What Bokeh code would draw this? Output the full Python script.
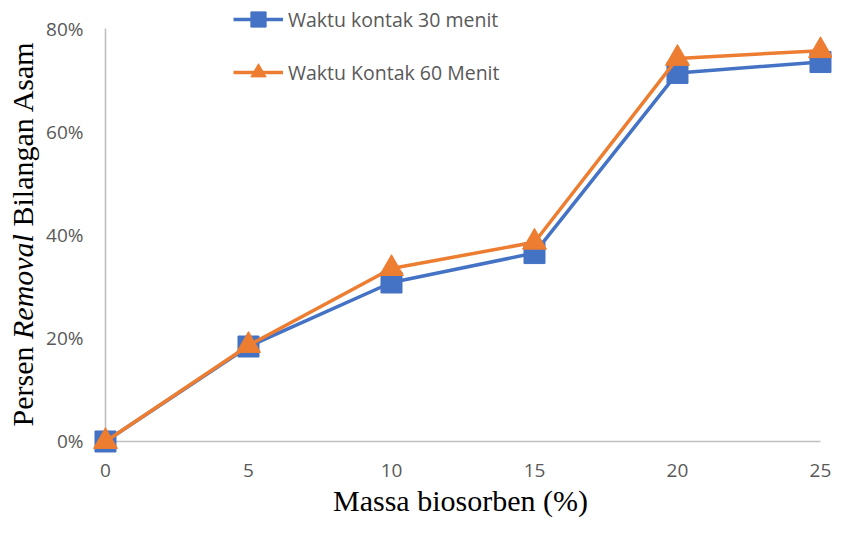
import math
from bokeh.plotting import figure
from bokeh.models import Range1d, Legend, LegendItem, Label
from bokeh.core.properties import value
from bokeh.embed import file_html
from bokeh.resources import INLINE

# ---- data ----
massa = [0, 5, 10, 15, 20, 25]
waktu_30 = [0.0, 0.184, 0.308, 0.365, 0.714, 0.735]
waktu_60 = [0.0, 0.186, 0.335, 0.386, 0.742, 0.757]
series_names = ["Waktu kontak 30 menit", "Waktu Kontak 60 Menit"]
x_ticks = [0, 5, 10, 15, 20, 25]
x_tick_labels = ["0", "5", "10", "15", "20", "25"]
y_ticks = [0.0, 0.2, 0.4, 0.6, 0.8]
y_tick_labels = ["0%", "20%", "40%", "60%", "80%"]
x_title = "Massa biosorben (%)"
y_title_parts = ["Persen ", "Removal", " Bilangan Asam"]

BLUE = "#4472C4"
ORANGE = "#ED7D31"
GRAY_TXT = "#595959"
AXIS = "#BFBFBF"

W, H = 832, 517
p = figure(width=W, height=H, output_backend="svg", toolbar_location=None,
           x_range=Range1d(-3.671, 25.420), y_range=Range1d(-0.14722, 0.85424),
           min_border=0)
p.outline_line_color = None
p.xaxis.visible = False
p.yaxis.visible = False
p.xgrid.visible = False
p.ygrid.visible = False
p.background_fill_color = "white"
p.border_fill_color = "white"

# axis lines at the data origin
p.segment(x0=[x_ticks[0], x_ticks[0]], y0=[y_ticks[0], y_ticks[0]],
          x1=[x_ticks[-1], x_ticks[0]], y1=[y_ticks[0], y_ticks[-1]],
          line_color=AXIS, line_width=1.6)

# tick labels
p.text(x=x_ticks, y=[y_ticks[0]] * len(x_ticks), text=x_tick_labels, y_offset=29,
       text_align="center", text_baseline="middle", text_font=value("Open Sans"),
       text_font_size="19px", text_color=GRAY_TXT)
p.text(x=[x_ticks[0]] * len(y_ticks), y=y_ticks, text=y_tick_labels, x_offset=-22,
       text_align="right", text_baseline="middle", text_font=value("Open Sans"),
       text_font_size="19px", text_color=GRAY_TXT)

l1 = p.line(massa, waktu_30, line_color=BLUE, line_width=3.5)
s1 = p.scatter(massa, waktu_30, marker="square", size=21, fill_color=BLUE, line_color=BLUE)
l2 = p.line(massa, waktu_60, line_color=ORANGE, line_width=3.5)
s2 = p.scatter(massa, waktu_60, marker="triangle", size=24, fill_color=ORANGE, line_color=ORANGE)

legend = Legend(items=[LegendItem(label=series_names[0], renderers=[l1, s1]),
                       LegendItem(label=series_names[1], renderers=[l2, s2])],
                location=(233, 426), orientation="vertical",
                padding=0, margin=0, spacing=15, glyph_width=50, glyph_height=38,
                label_standoff=5, label_height=20,
                label_text_font="Open Sans", label_text_font_size="19.5px",
                label_text_color=GRAY_TXT,
                background_fill_alpha=0, border_line_alpha=0)
p.add_layout(legend)

# x axis title
p.add_layout(Label(x=460, y=17, x_units="screen", y_units="screen", text=x_title,
                   text_font="Liberation Serif", text_font_size="30px", text_color="black",
                   text_align="center", text_baseline="alphabetic"))
# y axis title (mixed upright / italic)
y_starts = [91, 178.5, 291]
styles = ["normal", "italic", "normal"]
for part, yy, st in zip(y_title_parts, y_starts, styles):
    p.add_layout(Label(x=22, y=yy, x_units="screen", y_units="screen", text=part.strip(),
                       angle=math.pi / 2, text_font="Liberation Serif", text_font_size="30px",
                       text_font_style=st, text_color="black",
                       text_align="left", text_baseline="alphabetic"))

open("out.html", "w").write(file_html(p, INLINE))
